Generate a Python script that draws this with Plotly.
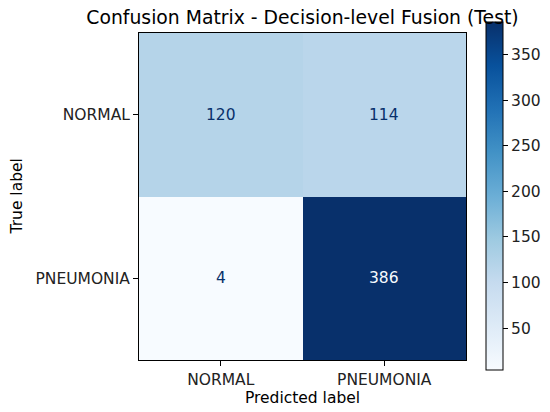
import plotly.graph_objects as go

labels = ["NORMAL", "PNEUMONIA"]
matrix = [[120, 114], [4, 386]]
title_text = "Confusion Matrix - Decision-level Fusion (Test)"
x_title = "Predicted label"
y_title = "True label"
cbar_ticks = [50, 100, 150, 200, 250, 300, 350]

blues = ["#f7fbff", "#deebf7", "#c6dbef", "#9ecae1", "#6baed6",
         "#4292c6", "#2171b5", "#08519c", "#08306b"]
colorscale = [[i / (len(blues) - 1), c] for i, c in enumerate(blues)]

flat = [v for row in matrix for v in row]
zmin, zmax = min(flat), max(flat)
thresh = (zmin + zmax) / 2

FS = 15.5
W, H = 542, 404  # page has 8px body margin
ML, MR, MT, MB = 131, 84, 25, 52
PW = W - ML - MR

fig = go.Figure()
fig.add_trace(go.Heatmap(
    z=matrix, x=labels, y=labels,
    colorscale=colorscale, zmin=zmin, zmax=zmax,
    showscale=True, hoverinfo="skip",
    colorbar=dict(
        thickness=17, len=1.064, lenmode="fraction",
        x=1.061, xanchor="left", xref="paper", xpad=0, ypad=0,
        y=0.5015, yanchor="middle",
        outlinewidth=1, outlinecolor="black",
        tickvals=cbar_ticks, ticks="outside", ticklen=5, tickcolor="black",
        tickfont=dict(family="DejaVu Sans", size=FS, color="#222"),
    ),
))

for i, row in enumerate(matrix):
    for j, v in enumerate(row):
        fig.add_annotation(
            x=labels[j], y=labels[i], text=str(v), showarrow=False,
            font=dict(family="DejaVu Sans", size=FS,
                      color="#f7fbff" if v > thresh else "#08306b"),
        )

fig.add_annotation(
    text=y_title, xref="paper", yref="paper",
    x=(8 - ML) / PW, y=0.5, xanchor="center", yanchor="middle",
    textangle=-90, showarrow=False,
    font=dict(family="DejaVu Sans", size=FS, color="black"),
)

fig.update_layout(
    width=W, height=H,
    margin=dict(l=ML, r=MR, t=MT, b=MB, autoexpand=False),
    paper_bgcolor="white", plot_bgcolor="white",
    title=dict(text=title_text, x=0.5, xref="paper", xanchor="center",
               y=1 - 9.5 / H, yanchor="middle",
               font=dict(family="DejaVu Sans", size=18.8, color="black")),
    font=dict(family="DejaVu Sans", size=FS, color="black"),
    xaxis=dict(
        title=dict(text=x_title, font=dict(size=FS), standoff=2),
        showline=True, linecolor="black", linewidth=1, mirror=True,
        ticks="outside", ticklen=5, tickcolor="black",
        tickfont=dict(size=FS, color="#222"), showgrid=False, zeroline=False,
    ),
    yaxis=dict(
        showline=True, linecolor="black", linewidth=1, mirror=True,
        ticks="outside", ticklen=5, tickcolor="black", autorange="reversed",
        tickfont=dict(size=FS, color="#222"), showgrid=False, zeroline=False,
    ),
)

fig.write_html("out.html")
